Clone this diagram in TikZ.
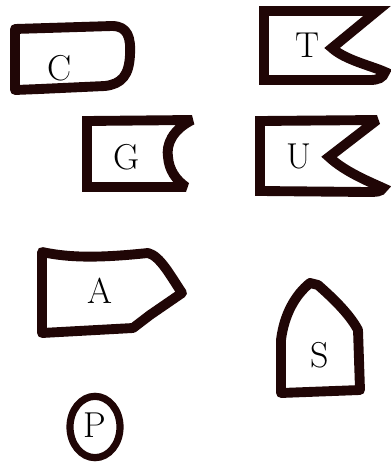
\documentclass[tikz,border=0pt]{standalone}
\usepackage{fontspec}
\usepackage{xcolor}
\usepackage{tikz}
\usetikzlibrary{shapes.geometric, positioning}
\definecolor{ink}{RGB}{32,6,6}

\begin{document}
\begin{tikzpicture}[
    x=0.75pt, y=-0.75pt,
    blob/.style={draw=ink, line width=7.4pt, line join=round, line cap=round},
    sharp/.style={blob, line join=miter, miter limit=3},
    thin blob/.style={draw=ink, line width=5.4pt},
    lbl/.style={font=\fontsize{27}{30}\selectfont, text=black, inner sep=0pt},
  ]
    \useasboundingbox (0,0) rectangle (391,463);

    % C box
    \draw[blob] (15,29) -- (112,26) .. controls (128,26) and (131,38) .. (130,55)
      .. controls (129,75) and (122,84) .. (105,86) -- (40,89) -- (15,90) -- cycle;
    \node[lbl] (c) at (60,68) {C};

    % T flag
    \draw[sharp] (264,11) -- (377,11) -- (332,48) .. controls (345,60) and (372,66) .. (385,72)
      .. controls (383,78) and (378,80) .. (370,80) -- (264,80) -- cycle;
    \node[lbl] (t) at (308,45) {T};

    % G box
    \draw[sharp] (87,121) -- (192,120) .. controls (172,130) and (166,145) .. (168,157)
      .. controls (169,170) and (176,180) .. (186,187) -- (87,187) -- cycle;
    \node[lbl] (g) at (127,157) {G};

    % U flag
    \draw[sharp] (260,121) -- (377,120) -- (329,157) .. controls (345,172) and (370,182) .. (383,188)
      .. controls (381,192) and (376,192) .. (368,192) -- (260,191) -- cycle;
    \node[lbl] (u) at (299,156) {U};

    % A box
    \draw[blob] (42,252) .. controls (70,258) and (100,258) .. (148,253)
      .. controls (160,256) and (170,275) .. (182,293) -- (150,315) -- (133,328) -- (42,333) -- cycle;
    \node[lbl] (a) at (100,291) {A};

    % S house
    \draw[blob] (281,393) -- (281,340) .. controls (284,315) and (295,295) .. (310,283) -- (318,285)
      .. controls (335,300) and (350,315) .. (358,330) -- (360,390) -- cycle;
    \node[lbl] (s) at (320,355) {S};

    % P oval
    \node[thin blob, ellipse, minimum width=37.5pt, minimum height=46pt, lbl] (p) at (95,427) {};
    \node[lbl] (plbl) at (95,425) {P};
  \end{tikzpicture}
\end{document}
